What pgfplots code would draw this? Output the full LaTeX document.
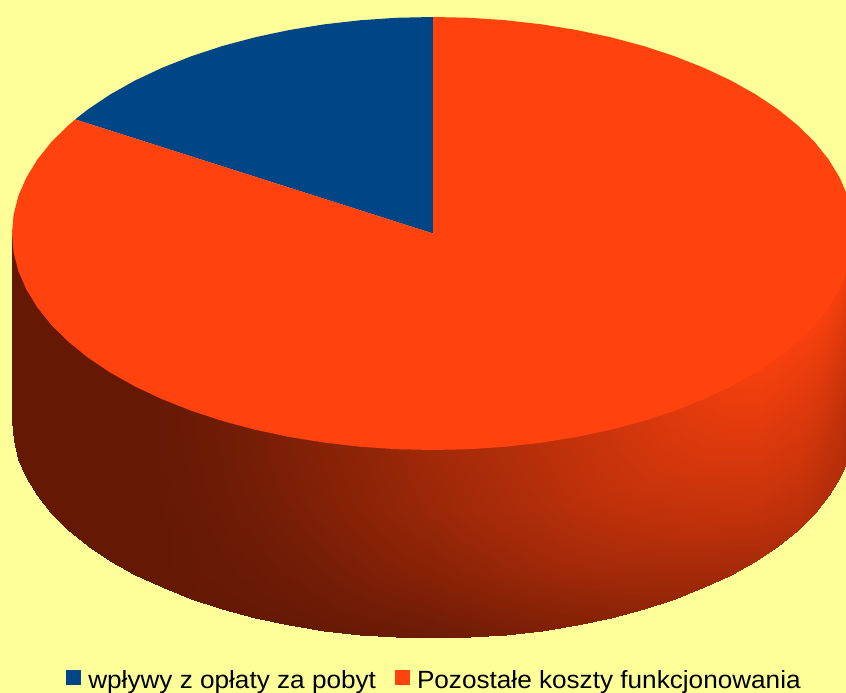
\documentclass[border=0pt]{standalone}
\usepackage{fontspec}
\setmainfont{Liberation Sans}
\newfontfamily\lgfont[FakeStretch=1.05]{Liberation Sans}
\usepackage{pgfplots}
\pgfplotsset{compat=1.18}
\definecolor{bg}{HTML}{FFFF99}
\definecolor{pieblue}{HTML}{004586}
\definecolor{pieorange}{HTML}{FF420E}
\begin{document}
\begin{tikzpicture}
\begin{axis}[
  scale only axis, width=846pt, height=693pt,
  xmin=0, xmax=846, ymin=0, ymax=693,
  hide axis,
  colormap={piecm}{rgb255(0cm)=(101,25,5); rgb255(1cm)=(255,66,14)},
  point meta min=0, point meta max=1,
  legend columns=2,
  legend style={draw=none, fill=none, at={(0.513,0.002)}, anchor=south,
    font=\lgfont\fontsize{24.9pt}{26pt}\selectfont, inner sep=0pt,
    nodes={inner sep=1pt},
    /tikz/every even column/.append style={column sep=18pt}},
  legend image code/.code={\path[fill=none,draw=none] (0pt,-4pt) rectangle (21pt,11pt); \fill[#1] (0pt,-4pt) rectangle (15pt,11pt);},
]
\addplot[fill=bg, draw=none, forget plot] coordinates {(0,0) (846,0) (846,693) (0,693)} -- cycle;
\addplot[surf, shader=interp, mesh/cols=4, point meta=explicit, forget plot] table[x=x, y=y, meta=c] {
x y c
12 462.5 0
12 396.8 0
12 334.2 0
12 271.5 0
13.6 443.6 0
13.6 377.9 0
13.6 315.3 0
13.6 252.6 0
18.4 424.9 0
18.4 359.2 0
18.4 296.6 0
18.4 233.9 0
26.4 406.5 0
26.4 340.8 0
26.4 278.2 0
26.4 215.5 0
37.4 388.5 0
37.4 322.8 0
37.4 260.2 0
37.4 197.5 0
51.4 371 0
51.4 305.3 0
51.4 242.7 0
51.4 180 0
68.4 354.3 0
68.4 288.6 0
68.4 226 0
68.4 163.3 0
88.1 338.3 0
88.1 272.6 0
88.1 210 0
88.1 147.3 0
110.5 323.3 0
110.5 257.6 0
110.5 195 0
110.5 132.3 0
135.3 309.4 0
135.3 243.7 0
135.3 181.1 0
135.3 118.4 0
162.4 296.7 .01
162.4 231 .01
162.4 168.4 0
162.4 105.7 0
191.5 285.2 .04
191.5 219.5 .03
191.5 156.9 .01
191.5 94.2 0
222.5 275 .07
222.5 209.3 .06
222.5 146.7 .03
222.5 84 0
255.1 266.3 .12
255.1 200.6 .1
255.1 138 .05
255.1 75.3 0
289 259.1 .17
289 193.4 .14
289 130.8 .08
289 68.1 0
324 253.4 .22
324 187.7 .19
324 125.1 .11
324 62.4 .01
359.9 249.3 .27
359.9 183.6 .24
359.9 121 .15
359.9 58.3 .02
396.3 246.8 .33
396.3 181.1 .29
396.3 118.5 .19
396.3 55.8 .03
433 246 .4
433 180.3 .34
433 117.7 .22
433 55 .05
469.7 246.8 .45
469.7 181.1 .4
469.7 118.5 .27
469.7 55.8 .08
506.1 249.3 .5
506.1 183.6 .45
506.1 121 .32
506.1 58.3 .12
542 253.4 .56
542 187.7 .5
542 125.1 .37
542 62.4 .16
577 259.1 .62
577 193.4 .56
577 130.8 .42
577 68.1 .2
610.9 266.3 .68
610.9 200.6 .61
610.9 138 .46
610.9 75.3 .24
643.5 275 .74
643.5 209.3 .66
643.5 146.7 .5
643.5 84 .28
674.5 285.2 .8
674.5 219.5 .7
674.5 156.9 .54
674.5 94.2 .32
703.6 296.7 .85
703.6 231 .74
703.6 168.4 .58
703.6 105.7 .36
730.7 309.4 .9
730.7 243.7 .77
730.7 181.1 .62
730.7 118.4 .4
755.5 323.3 .94
755.5 257.6 .8
755.5 195 .66
755.5 132.3 .45
777.9 338.3 .95
777.9 272.6 .8
777.9 210 .67
777.9 147.3 .49
797.6 354.3 .95
797.6 288.6 .8
797.6 226 .68
797.6 163.3 .52
814.6 371 .96
814.6 305.3 .8
814.6 242.7 .66
814.6 180 .52
828.6 388.5 .95
828.6 322.8 .78
828.6 260.2 .62
828.6 197.5 .52
839.6 406.5 .93
839.6 340.8 .75
839.6 278.2 .6
839.6 215.5 .52
847.6 424.9 .9
847.6 359.2 .72
847.6 296.6 .56
847.6 233.9 .5
852.4 443.6 .88
852.4 377.9 .7
852.4 315.3 .55
852.4 252.6 .5
854 462.5 .85
854 396.8 .68
854 334.2 .54
854 271.5 .5
};
\addplot[fill=pieblue, draw=none] coordinates {
(433,459.5) (433,676) (396.3,675.2) (359.9,672.7) (324,668.6) (289,662.9) (255.1,655.7) (222.5,647) (191.5,636.8) (162.4,625.3) (135.3,612.6) (110.5,598.7) (88.1,583.7) (75.2,573.6)
} -- cycle;
\addplot[fill=pieorange, draw=none] coordinates {
(433,459.5) (75.2,573.6) (68.4,567.75) (51.4,551) (37.4,533.5) (26.4,515.5) (18.4,497.1) (13.6,478.4) (12,459.5) (13.6,440.6) (18.4,421.9) (26.4,403.5) (37.4,385.5) (51.4,368) (68.4,351.25) (88.1,335.3) (110.5,320.3) (135.3,306.4) (162.4,293.7) (191.5,282.2) (222.5,272) (255.1,263.3) (289,256.1) (324,250.4) (359.9,246.3) (396.3,243.8) (433,243) (469.7,243.8) (506.1,246.3) (542,250.4) (577,256.1) (610.9,263.3) (643.5,272) (674.5,282.2) (703.6,293.7) (730.7,306.4) (755.5,320.3) (777.9,335.3) (797.6,351.25) (814.6,368) (828.6,385.5) (839.6,403.5) (847.6,421.9) (852.4,440.6) (854,459.5) (852.4,478.4) (847.6,497.1) (839.6,515.5) (828.6,533.5) (814.6,551) (797.6,567.75) (777.9,583.7) (755.5,598.7) (730.7,612.6) (703.6,625.3) (674.5,636.8) (643.5,647) (610.9,655.7) (577,662.9) (542,668.6) (506.1,672.7) (469.7,675.2) (433,676)
} -- cycle;
\legend{wpływy z opłaty za pobyt, Pozostałe koszty funkcjonowania}
\end{axis}
\end{tikzpicture}
\end{document}
